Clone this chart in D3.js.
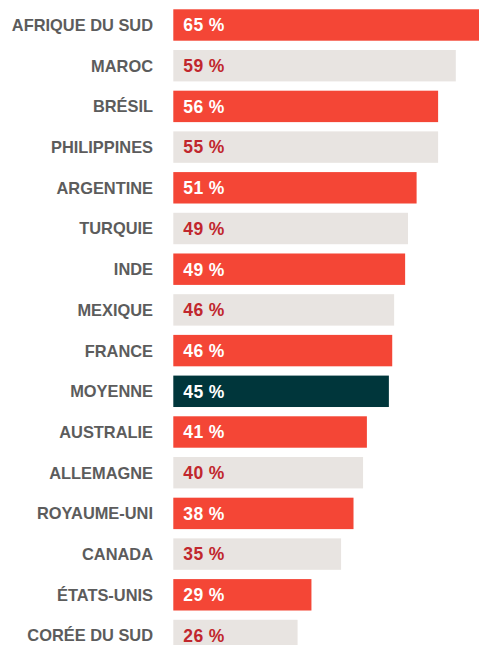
<!DOCTYPE html>
<html>
<head>
<meta charset="utf-8">
<script src="https://cdn.jsdelivr.net/npm/d3@7"></script>
<style>
  html, body { margin: 0; padding: 0; background: #ffffff; }
  svg { display: block; }
</style>
</head>
<body>
<div id="chart"></div>
<script>
const countries = ["AFRIQUE DU SUD", "MAROC", "BRÉSIL", "PHILIPPINES", "ARGENTINE", "TURQUIE", "INDE", "MEXIQUE", "FRANCE", "MOYENNE", "AUSTRALIE", "ALLEMAGNE", "ROYAUME-UNI", "CANADA", "ÉTATS-UNIS", "CORÉE DU SUD"];
const values = [65.2, 59.1, 55.4, 55.4, 50.9, 49.1, 48.5, 46.2, 45.8, 45.1, 40.5, 39.7, 37.7, 35.1, 28.9, 26.0];
const valueLabels = ["65 %", "59 %", "56 %", "55 %", "51 %", "49 %", "49 %", "46 %", "46 %", "45 %", "41 %", "40 %", "38 %", "35 %", "29 %", "26 %"];
const groups = ["red", "grey", "red", "grey", "red", "grey", "red", "grey", "red", "avg", "red", "grey", "red", "grey", "red", "grey"];

const W = 479, H = 645;
const barX0 = 173.3;
const fillColor = { red: "#f44636", grey: "#e8e4e1", avg: "#00363b" };
const textColor = { red: "#ffffff", grey: "#c1272d", avg: "#ffffff" };

const svg = d3.select("#chart").append("svg")
  .attr("width", W).attr("height", H);

const x = d3.scaleLinear().domain([0, 1]).range([barX0, barX0 + 4.78]);
const step = 40.7;
const y = d3.scaleBand()
  .domain(countries)
  .range([4.65, 4.65 + step * countries.length])
  .paddingInner(0.228)
  .paddingOuter(0.114);

const rows = svg.selectAll("g.row")
  .data(countries.map((c, i) => ({ c, v: values[i], lab: valueLabels[i], g: groups[i] })))
  .join("g").attr("class", "row");

rows.append("rect")
  .attr("x", x(0))
  .attr("y", d => y(d.c))
  .attr("width", d => x(d.v) - x(0))
  .attr("height", y.bandwidth())
  .attr("fill", d => fillColor[d.g]);

rows.append("text")
  .attr("x", 153)
  .attr("y", d => y(d.c) + y.bandwidth() / 2)
  .attr("dy", "0.36em")
  .attr("text-anchor", "end")
  .attr("font-family", "'Liberation Sans', Arial, sans-serif")
  .attr("font-weight", "bold")
  .attr("font-size", "16.4px")
  .attr("fill", "#5c5c5c")
  .text(d => d.c);

rows.append("text")
  .attr("x", x(0) + 10)
  .attr("y", d => y(d.c) + y.bandwidth() / 2)
  .attr("dy", "0.36em")
  .attr("font-family", "'Liberation Sans', Arial, sans-serif")
  .attr("font-weight", "bold")
  .attr("font-size", "17.5px")
  .attr("letter-spacing", "0.4px")
  .attr("fill", d => textColor[d.g])
  .text(d => d.lab);
</script>
</body>
</html>
